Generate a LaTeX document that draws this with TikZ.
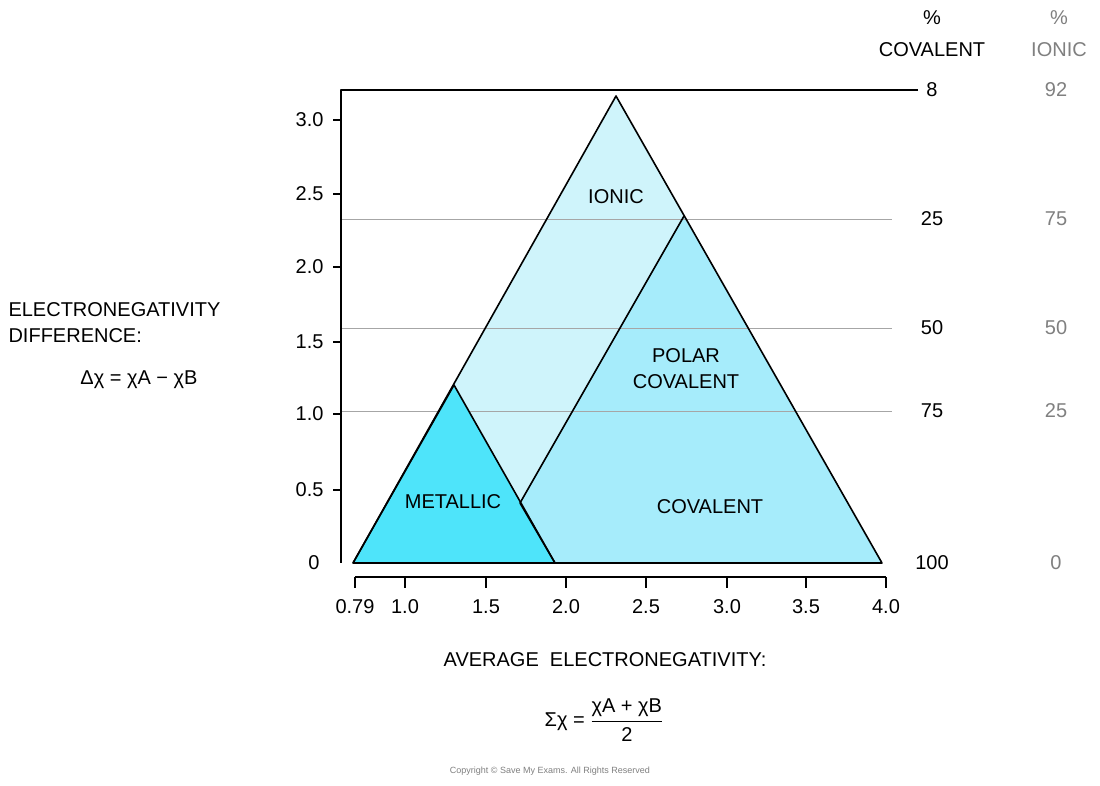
\documentclass[tikz,border=0pt]{standalone}
\usepackage{fontspec}
\setmainfont{Liberation Sans}
\definecolor{ionc}{HTML}{CFF4FB}
\definecolor{covc}{HTML}{A6ECFB}
\definecolor{metc}{HTML}{4EE4FA}
\begin{document}
\begin{tikzpicture}[x=1pt,y=-1pt,
  lab/.style={font=\fontsize{20}{26}\selectfont},
  tk/.style={font=\fontsize{20}{24}\selectfont},
  ln/.style={line width=1.6pt,line join=round},
  grayl/.style={draw=gray!70,line width=0.8pt}]
\useasboundingbox (0,0) rectangle (1100,785);
\fill[white] (0,0) rectangle (1100,785);
% regions
\fill[ionc] (353,563) -- (616,96) -- (882,563) -- cycle;
\fill[covc] (684,216) -- (520,503) -- (555,563) -- (882,563) -- cycle;
% gray lines
\foreach \yy in {219,328,411} \draw[grayl] (341,\yy) -- (892,\yy);
\fill[metc] (353,563) -- (454,385) -- (555,563) -- cycle;
\draw[ln] (353,563) -- (616,96) -- (882,563) -- cycle;
\draw[ln] (684,216) -- (520,503) -- (555,563);
\draw[ln] (353,563) -- (454,385) -- (555,563);
% axes
\draw[ln] (918,90) -- (341,90) -- (341,563);
\foreach \yy/\t in {120/3.0,194/2.5,267/2.0,342/1.5,414/1.0,490/0.5}{
  \draw[ln] (341,\yy) -- (333,\yy);
  \node[tk,anchor=east] (y\t) at (327,\yy) {\t};}
\node[tk,anchor=east] (y0) at (323,563) {0};
\draw[ln] (355,577) -- (886,577);
\foreach \xx/\t in {355/0.79,405/1.0,486/1.5,566/2.0,646/2.5,727/3.0,806/3.5,886/4.0}{
  \draw[ln] (\xx,577) -- (\xx,588);
  \node[tk] (x\t) at (\xx,607) {\t};}
% region labels
\node[lab] (ion) at (616,197) {IONIC};
\node[lab,align=center] (pc) at (686,369) {POLAR\\COVALENT};
\node[lab] (cov) at (710,507) {COVALENT};
\node[lab] (met) at (453,502) {METALLIC};
% right scales
\node[lab] (h1) at (932,18) {\%};
\node[lab] (h2) at (932,50) {COVALENT};
\node[lab,gray] (h3) at (1059,18) {\%};
\node[lab,gray] (h4) at (1059,50) {IONIC};
\foreach \yy/\a/\b in {90/8/92,219/25/75,328/50/50,411/75/25,563/100/0}{
  \node[lab] at (932,\yy) {\a};
  \node[lab,gray] at (1056,\yy) {\b};}
% axis titles
\node[lab,anchor=west,align=left] (yt) at (5,323) {ELECTRONEGATIVITY\\DIFFERENCE:};
\node[lab] (yf) at (139,380) {Δχ = χA − χB};
\node[lab] (xt) at (605,660) {AVERAGE\ \ ELECTRONEGATIVITY:};
\node[lab] (xf) at (604,720) {Σχ = $\displaystyle\frac{\mbox{χA + χB}}{\mbox{2}}$};
\node[font=\fontsize{9}{10}\selectfont,gray] (cp) at (550,771) {Copyright © Save My Exams. All Rights Reserved};
\end{tikzpicture}
\end{document}
